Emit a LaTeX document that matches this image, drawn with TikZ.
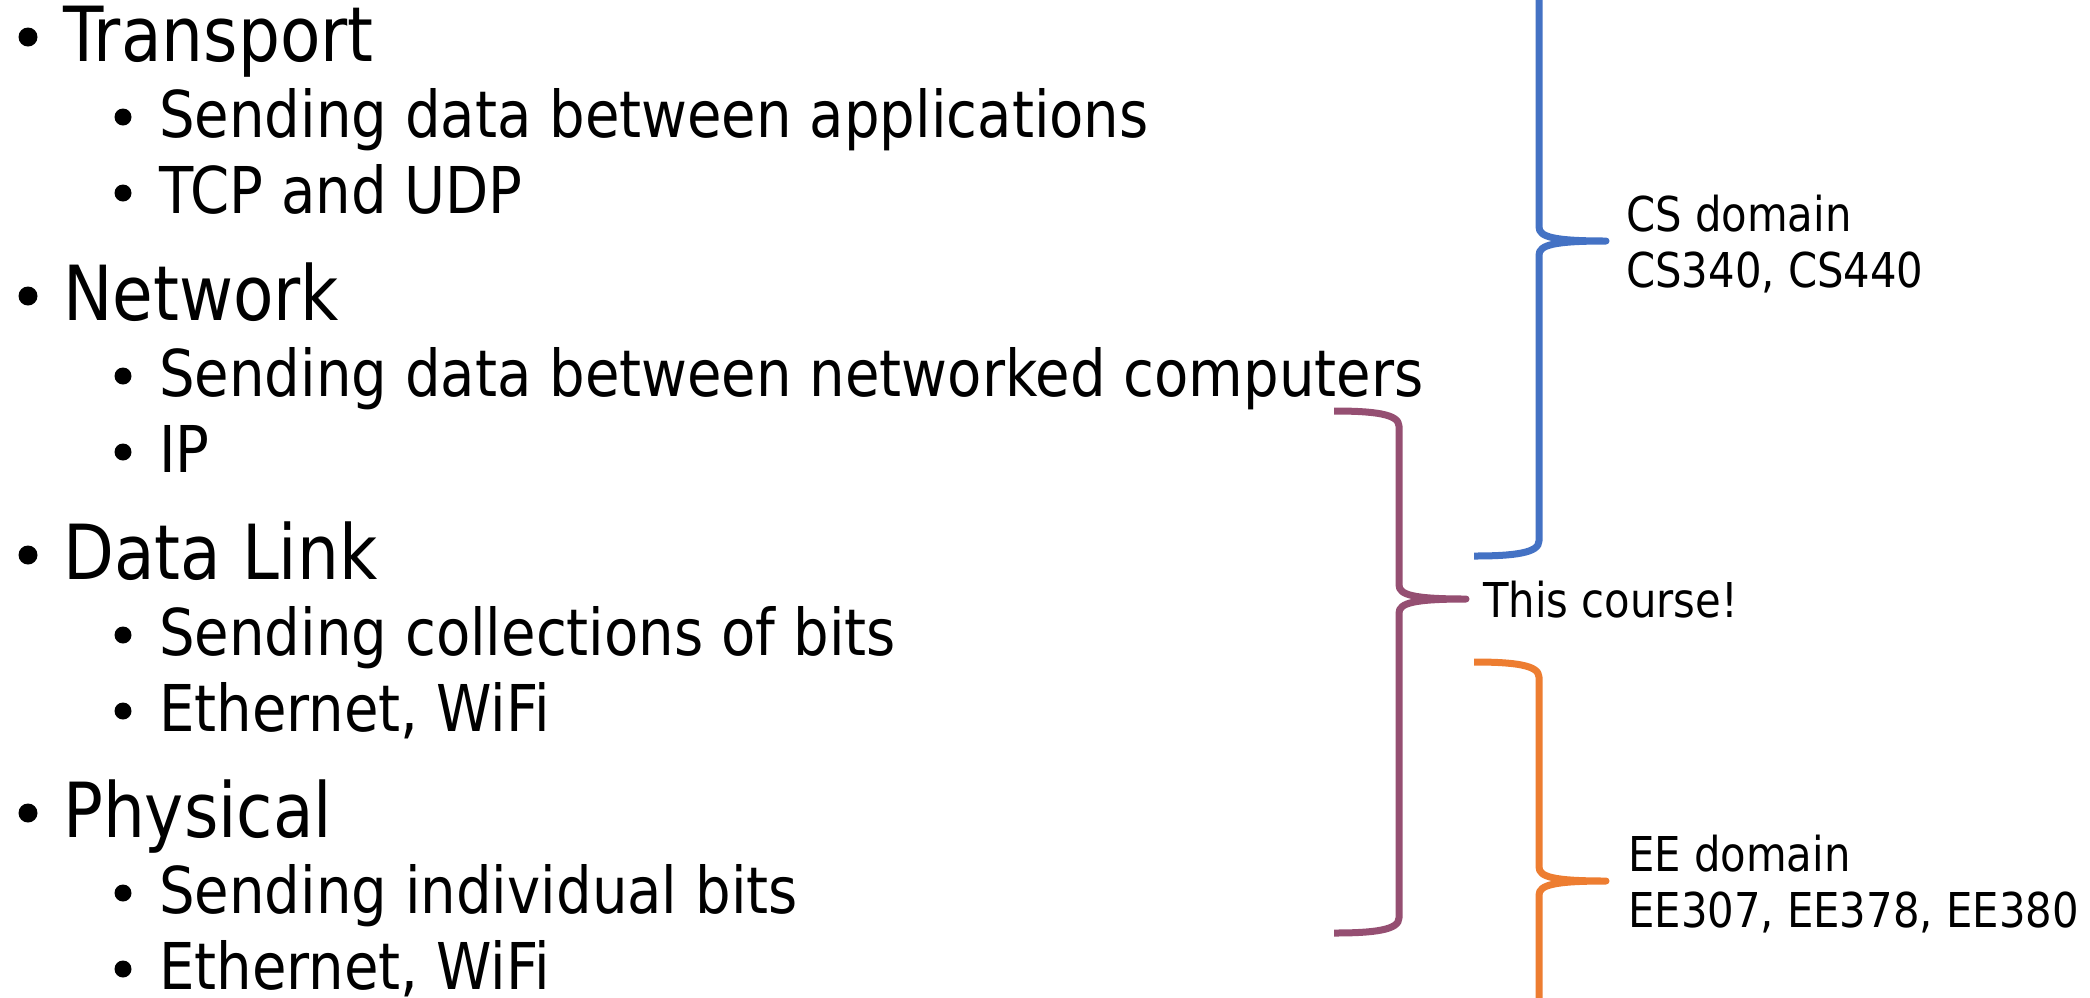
\documentclass[tikz,border=0pt]{standalone}
\usepackage{fontspec}
\setmainfont{DejaVu Sans}[FakeStretch=0.87]
\definecolor{csblue}{HTML}{4472C4}
\definecolor{eeorange}{HTML}{ED7D31}
\definecolor{coursepurple}{HTML}{954F72}
\newcommand\headfont{\fontsize{76}{76}\selectfont}
\newcommand\itemfont{\fontsize{64.5}{64.5}\selectfont}
\newcommand\labfont{\fontsize{48}{48}\selectfont}
% #1 colour, #2 x of ends, #3 x of spine, #4 x of tip, #5 y top end, #6 y tip, #7 y bottom end
\newcommand\mybrace[7]{%
  \draw[bracestyle,#1] (#2,#5) .. controls ({#3-25},#5) and (#3,{#5+3}) .. (#3,{#5+15})
    -- (#3,{#6-14}) .. controls (#3,{#6-4}) and ({#3+15},#6) .. (#4,#6)
    .. controls ({#3+15},#6) and (#3,{#6+4}) .. (#3,{#6+14})
    -- (#3,{#7-15}) .. controls (#3,{#7-3}) and ({#3-25},#7) .. (#2,#7);}
\tikzset{
  bracestyle/.style={line width=7pt, line join=round},
  head/.style={anchor=base west, inner sep=0pt, font=\headfont},
  item/.style={anchor=base west, inner sep=0pt, font=\itemfont},
  lab/.style={anchor=base west, inner sep=0pt, font=\labfont},
}
\begin{document}
\begin{tikzpicture}[x=1pt,y=-1pt]
\useasboundingbox (0,0) rectangle (2090,997);
\clip (0,0) rectangle (2090,997);
% left column
\foreach \hy/\htxt/\sa/\sb [count=\i] in {
  61/Transport/Sending data between applications/TCP and UDP,
  320/Network/Sending data between networked computers/IP,
  579/Data Link/Sending collections of bits/{Ethernet, WiFi},
  837/Physical/Sending individual bits/{Ethernet, WiFi}}{
  \fill (28,\hy-24) circle (9.5);
  \node[head] (h\i) at (63,\hy) {\htxt};
  \fill (123,\hy+76-20) circle (8.5);
  \node[item] (s\i a) at (159,\hy+76) {\sa};
  \fill (123,\hy+152-20) circle (8.5);
  \node[item] (s\i b) at (159,\hy+152) {\sb};
}
% braces
\mybrace{csblue}{1474}{1539}{1606}{-74}{241}{556}
\mybrace{coursepurple}{1334}{1399}{1466}{411}{599}{933}
\mybrace{eeorange}{1474}{1539}{1606}{662}{881}{1100}
% labels
\node[lab] (cs1) at (1626,231) {CS domain};
\node[lab] (cs2) at (1626,287) {CS340, CS440};
\node[lab] (course) at (1483,617) {This course!};
\node[lab] (ee1) at (1628,871) {EE domain};
\node[lab] (ee2) at (1628,927) {EE307, EE378, EE380};
\end{tikzpicture}
\end{document}
